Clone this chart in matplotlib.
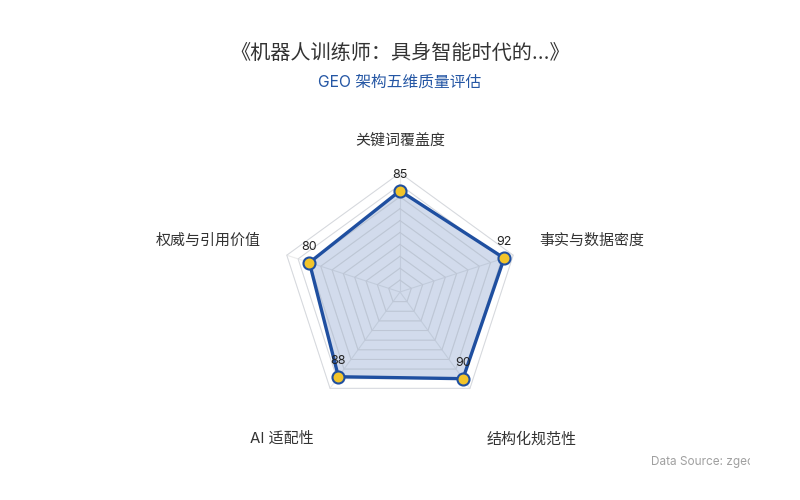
import numpy as np
import matplotlib
matplotlib.use("Agg")
import matplotlib.pyplot as plt
from matplotlib.transforms import Bbox

plt.rcParams['font.family'] = ['Inter', 'Noto Sans CJK SC', 'DejaVu Sans']

title = "《机器人训练师：具身智能时代的...》"
subtitle = "GEO 架构五维质量评估"
dimensions = ["关键词覆盖度", "事实与数据密度", "结构化规范性", "AI 适配性", "权威与引用价值"]
scores = [85, 92, 90, 88, 80]
max_score = 100
ring_step = 10

line_col = "#1f4fa0"
fill_col = "#1f4fa0"
dot_col = "#f2c42a"
grid_col = "#ebebeb"

fig = plt.figure(figsize=(8, 5), dpi=100)
# centre of radar at (400, 292) px, 150 px half-width
ax = fig.add_axes([0.3125, 0.116, 0.375, 0.6])
lim = 126
ax.set_xlim(-lim, lim)
ax.set_ylim(-lim, lim)
ax.set_aspect('equal')
ax.axis('off')

n = len(dimensions)
ang = np.pi / 2 - np.arange(n) * 2 * np.pi / n
ux, uy = np.cos(ang), np.sin(ang)

# rings
for r in np.arange(ring_step, max_score + 1, ring_step):
    ax.plot(np.append(ux, ux[0]) * r, np.append(uy, uy[0]) * r, color=grid_col, lw=0.8, zorder=1)
for i in range(n):
    ax.plot([0, ux[i] * max_score], [0, uy[i] * max_score], color=grid_col, lw=0.8, zorder=1)

v = np.array(scores, dtype=float)
px, py = ux * v, uy * v
ax.fill(px, py, color=fill_col, alpha=0.2, lw=0, zorder=2)
# inner rings visible through fill
for r in np.arange(ring_step, max_score + 1, ring_step):
    ax.plot(np.append(ux, ux[0]) * r, np.append(uy, uy[0]) * r, color="#b8bfcc", lw=0.6, zorder=2.5, alpha=0.45)
ax.plot(np.append(px, px[0]), np.append(py, py[0]), color=line_col, lw=2.4, zorder=3, solid_joinstyle='miter')
ax.scatter(px, py, s=75, facecolor=dot_col, edgecolor=line_col, linewidth=1.5, zorder=4)

for i in range(n):
    ax.annotate(str(scores[i]), (px[i], py[i]), xytext=(0, 7), textcoords='offset points',
                ha='center', va='bottom', fontsize=9, color='#222222', zorder=5)

# axis names
label_r = 123
for i in range(n):
    x, y = ux[i] * label_r, uy[i] * label_r
    if abs(ux[i]) < 0.1:
        ha, va, dy = 'center', 'bottom', -2
    elif uy[i] < -0.5:
        ha, va, dy = ('left' if ux[i] > 0 else 'right'), 'top', -18
    else:
        ha, va, dy = ('left' if ux[i] > 0 else 'right'), 'center', 5
    ax.text(x, y + dy, dimensions[i], ha=ha, va=va, fontsize=10.8,
            color='#333333', clip_on=False)

fig.text(0.5, 0.893, title, ha='center', va='center', fontsize=14.5, color='#333333')
fig.text(0.5, 0.836, subtitle, ha='center', va='center', fontsize=11.3, color='#2456a4')

src = fig.text(651 / 800, 1 - 462 / 500, "Data Source: zgeo.ai", ha='left', va='center',
               fontsize=8.5, color='#a0a0a0')
src.set_clip_box(Bbox.from_extents(0, 0, 750, 500))
src.set_clip_on(True)

fig.savefig("out.png", dpi=100, facecolor='white')
